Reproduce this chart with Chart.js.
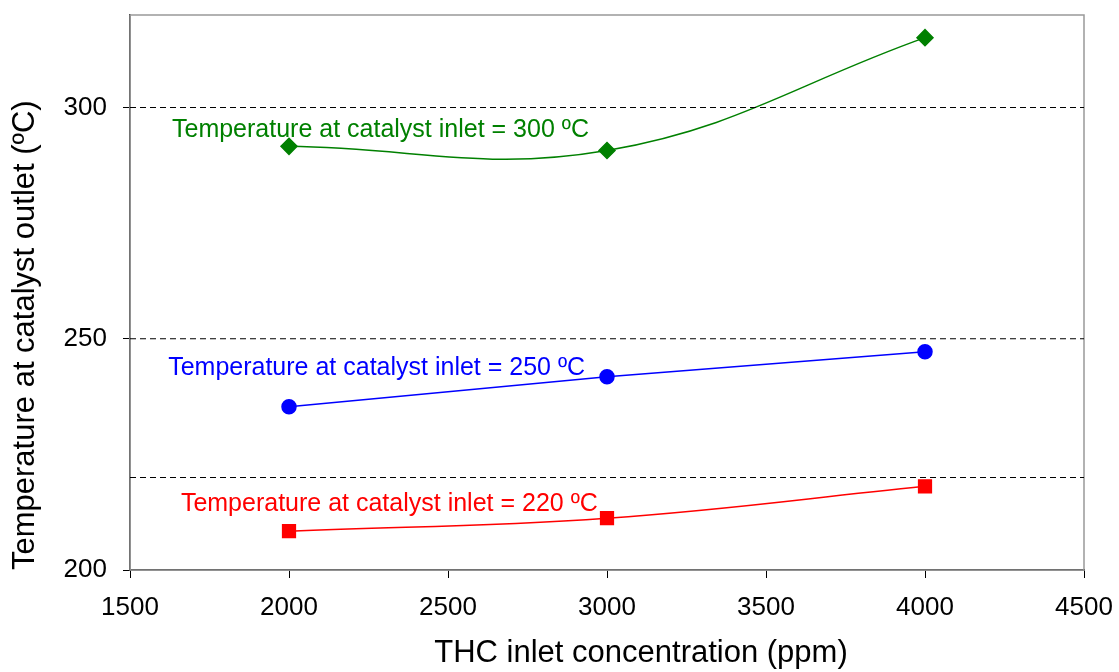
<!DOCTYPE html>
<html>
<head>
<meta charset="utf-8">
<script src="https://cdn.jsdelivr.net/npm/chart.js@4.4.1/dist/chart.umd.min.js"></script>
<style>
  html, body { margin: 0; padding: 0; background: #fff; }
  #wrap { width: 1119px; height: 672px; }
</style>
</head>
<body>
<div id="wrap"><canvas id="grafico"></canvas></div>
<script>
// datos
const concentraciones = [2000, 3000, 4000];
const temp300 = [291.6, 290.7, 315.1];
const temp250 = [235.3, 241.8, 247.2];
const temp220 = [208.4, 211.2, 218.1];

const lineasRef = [300, 250, 220];
const rangoX = [1500, 4500];

const etiquetasTexto = [
    "Temperature at catalyst inlet = 300 ºC",
    "Temperature at catalyst inlet = 250 ºC",
    "Temperature at catalyst inlet = 220 ºC"
];
const etiquetasX = [1632, 1620, 1660];
const etiquetasY = [295.2, 243.7, 214.2];
const etiquetasColor = ["#008000", "#0000ff", "#ff0000"];

const tituloX = "THC inlet concentration (ppm)";
const tituloY = "Temperature at catalyst outlet (ºC)";

const fuente = "'Liberation Sans', Arial, sans-serif";

function puntos(valores) {
    return concentraciones.map((c, i) => ({ x: c, y: valores[i] }));
}

const datasetsRef = lineasRef.map(v => ({
    data: rangoX.map(x => ({ x: x, y: v })),
    borderColor: "#000",
    borderWidth: 1.2,
    borderDash: [6, 4],
    pointRadius: 0,
    tension: 0
}));

const marcoGris = {
    id: "marcoGris",
    beforeDatasetsDraw(chart) {
        const a = chart.chartArea;
        const ctx = chart.ctx;
        ctx.save();
        ctx.strokeStyle = "#999";
        ctx.lineWidth = 1.5;
        ctx.strokeRect(a.left, a.top, a.right - a.left, a.bottom - a.top);
        ctx.restore();
    }
};

const textos = {
    id: "textos",
    afterDatasetsDraw(chart) {
        const ctx = chart.ctx;
        const sx = chart.scales.x;
        const sy = chart.scales.y;
        ctx.save();
        ctx.font = "25px " + fuente;
        ctx.textBaseline = "middle";
        ctx.textAlign = "left";
        etiquetasTexto.forEach((t, i) => {
            ctx.fillStyle = etiquetasColor[i];
            ctx.fillText(t, sx.getPixelForValue(etiquetasX[i]), sy.getPixelForValue(etiquetasY[i]));
        });
        ctx.restore();
    }
};

// titulo del eje x un poco corrido a la derecha, como en el original
const tituloEjeX = {
    id: "tituloEjeX",
    afterDraw(chart) {
        const a = chart.chartArea;
        const ctx = chart.ctx;
        ctx.save();
        ctx.font = "31px " + fuente;
        ctx.fillStyle = "#000";
        ctx.textAlign = "center";
        ctx.textBaseline = "middle";
        ctx.fillText(tituloX, (a.left + a.right) / 2 + 34, 653);
        ctx.restore();
    }
};

new Chart(document.getElementById("grafico"), {
    type: "line",
    data: {
        datasets: [
            ...datasetsRef,
            {
                data: puntos(temp300),
                borderColor: "#008000",
                backgroundColor: "#008000",
                borderWidth: 1.5,
                pointStyle: "rectRot",
                pointRadius: 8,
                tension: 0.4
            },
            {
                data: puntos(temp250),
                borderColor: "#0000ff",
                backgroundColor: "#0000ff",
                borderWidth: 1.5,
                pointStyle: "circle",
                pointRadius: 7,
                tension: 0
            },
            {
                data: puntos(temp220),
                borderColor: "#ff0000",
                backgroundColor: "#ff0000",
                borderWidth: 1.5,
                pointStyle: "rect",
                pointRadius: 9,
                tension: 0.4
            }
        ]
    },
    options: {
        responsive: true,
        maintainAspectRatio: false,
        animation: false,
        layout: { padding: { top: 15, right: 35, left: 0, bottom: 0 } },
        plugins: {
            legend: { display: false },
            tooltip: { enabled: false }
        },
        scales: {
            x: {
                type: "linear",
                min: 1500,
                max: 4500,
                afterFit(scale) {
                    scale.height = 102;
                    scale.paddingLeft = 0;
                    scale.paddingRight = 0;
                },
                border: { color: "#000", width: 1.5 },
                grid: { drawOnChartArea: false, color: "#000", tickLength: 8 },
                ticks: {
                    stepSize: 500,
                    color: "#000",
                    padding: 14,
                    callback: v => String(v),
                    font: { family: fuente, size: 26 }
                },
                title: { display: false }
            },
            y: {
                type: "linear",
                min: 200,
                max: 320,
                afterFit(scale) {
                    scale.width = 130;
                    scale.paddingTop = 0;
                    scale.paddingBottom = 0;
                },
                border: { color: "#000", width: 1.5 },
                grid: { drawOnChartArea: false, color: "#000", tickLength: 7 },
                ticks: {
                    stepSize: 50,
                    includeBounds: false,
                    color: "#000",
                    padding: 16,
                    callback: v => String(v),
                    font: { family: fuente, size: 26 }
                },
                title: {
                    display: true,
                    text: tituloY,
                    align: "start",
                    color: "#000",
                    padding: { top: 7, bottom: 4 },
                    font: { family: fuente, size: 31 }
                }
            }
        }
    },
    plugins: [marcoGris, textos, tituloEjeX]
});
</script>
</body>
</html>
